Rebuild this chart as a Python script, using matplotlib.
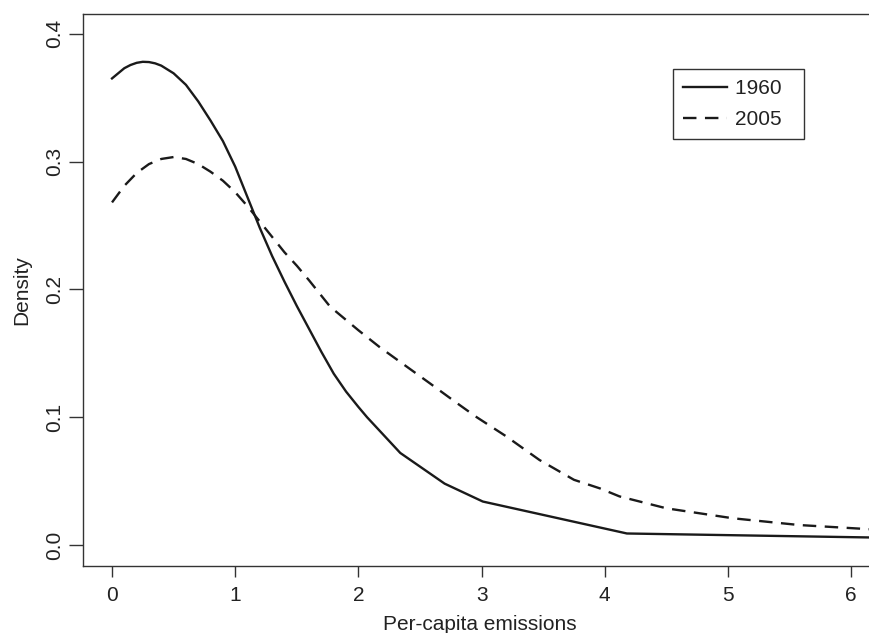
import matplotlib
matplotlib.use("Agg")
import matplotlib.pyplot as plt

# Data
x1960 = [0.0, 0.05, 0.1, 0.15, 0.2, 0.25, 0.3, 0.35, 0.4, 0.5, 0.6, 0.7, 0.8, 0.9, 1.0, 1.1, 1.2, 1.3,
         1.4, 1.5, 1.6, 1.7, 1.8, 1.9, 2.0, 2.07, 2.34, 2.7, 3.01, 4.18, 6.21]
y1960 = [0.365, 0.369, 0.373, 0.3755, 0.3772, 0.378, 0.3778, 0.3768, 0.375, 0.369, 0.360, 0.347, 0.332,
         0.316, 0.296, 0.272, 0.248, 0.226, 0.206, 0.187, 0.169, 0.151, 0.134, 0.120, 0.108, 0.100,
         0.072, 0.048, 0.034, 0.009, 0.0058]

x2005 = [0.0, 0.1, 0.2, 0.3, 0.4, 0.5, 0.6, 0.7, 0.8, 0.9, 1.0, 1.1, 1.2, 1.3, 1.4, 1.5, 1.6, 1.77,
         2.0, 2.17, 2.4, 2.58, 2.8, 2.96, 3.2, 3.47, 3.75, 3.96, 4.12, 4.5, 5.04, 5.58, 6.21]
y2005 = [0.268, 0.281, 0.291, 0.298, 0.302, 0.3035, 0.302, 0.298, 0.292, 0.285, 0.276, 0.265, 0.253,
         0.241, 0.229, 0.2185, 0.207, 0.1865, 0.168, 0.155, 0.139, 0.1265, 0.111, 0.100, 0.085, 0.0665,
         0.051, 0.0443, 0.038, 0.0287, 0.0209, 0.0156, 0.012]

xticks = [0, 1, 2, 3, 4, 5, 6]
yticks = [0.0, 0.1, 0.2, 0.3, 0.4]
ytick_labels = ["0.0", "0.1", "0.2", "0.3", "0.4"]

plt.rcParams['font.family'] = ['Liberation Sans', 'DejaVu Sans']
W, H = 869, 633
fig = plt.figure(figsize=(W / 100, H / 100), dpi=100)

left_px, right_px, top_px, bottom_px = 82.7, 877.0, 14.0, 565.7
ax = fig.add_axes([left_px / W, 1 - bottom_px / H, (right_px - left_px) / W, (bottom_px - top_px) / H])

line_col = '#1a1a1a'
ax.plot(x1960, y1960, color=line_col, lw=1.7, label='1960  ', solid_joinstyle='round')
ax.plot(x2005, y2005, color=line_col, lw=1.7, dashes=(5.7, 3.6), label='2005  ')

ax.set_xlim(-0.238, 6.21)
ax.set_ylim(-0.0162, 0.4154)

ax.set_xticks(xticks)
ax.set_xticklabels([str(t) for t in xticks])
ax.set_yticks(yticks)
ax.set_yticklabels(ytick_labels, rotation=90, va='center')

txt_col = '#222222'
spine_col = '#333333'
for s in ax.spines.values():
    s.set_color(spine_col)
    s.set_linewidth(1.0)
ax.spines['right'].set_visible(False)

fs = 15
ax.tick_params(axis='x', length=8, width=1.0, color=spine_col, labelsize=fs, labelcolor=txt_col, pad=6.5)
ax.tick_params(axis='y', length=10, width=1.0, color=spine_col, labelsize=fs, labelcolor=txt_col, pad=3.5)

ax.set_xlabel('Per-capita emissions', fontsize=fs, color=txt_col, labelpad=7)
ax.set_ylabel('Density', fontsize=fs, color=txt_col, labelpad=10)

leg_x = (672.5 - left_px) / (right_px - left_px)
leg_y = 1 - (69.0 - top_px) / (bottom_px - top_px)
leg = ax.legend(loc='upper left', bbox_to_anchor=(leg_x, leg_y), borderaxespad=0,
                fontsize=fs, handlelength=2.1, handletextpad=0.4, labelspacing=0.55,
                borderpad=0.5, fancybox=False, framealpha=1, edgecolor=spine_col)
leg.get_frame().set_linewidth(1.0)
for t in leg.get_texts():
    t.set_color(txt_col)

fig.savefig('out.png', dpi=100)
